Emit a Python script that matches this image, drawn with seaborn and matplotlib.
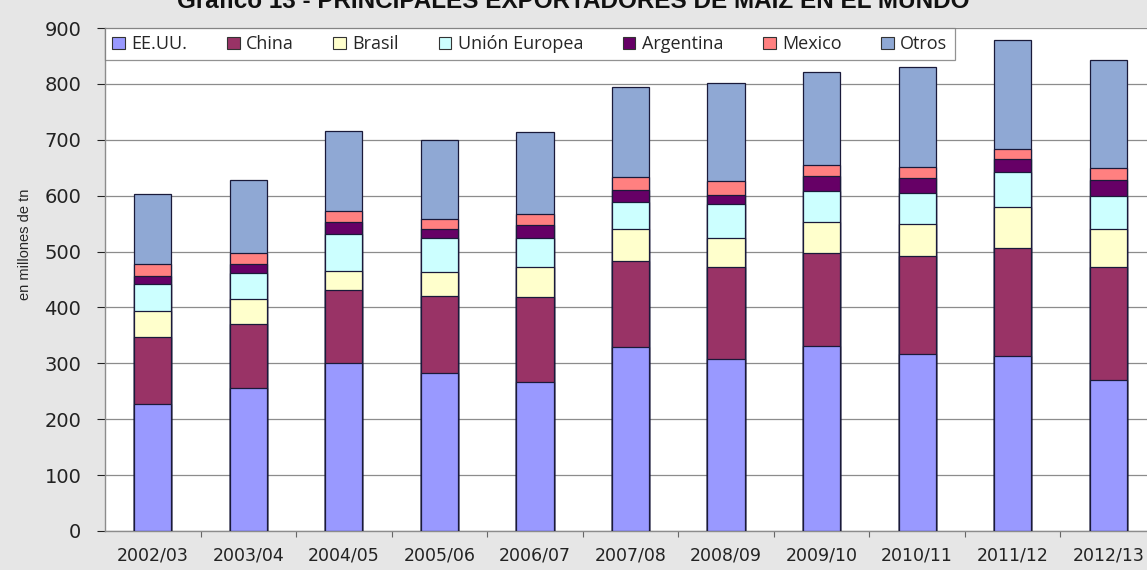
import numpy as np
import pandas as pd
import matplotlib
matplotlib.use("Agg")
import matplotlib.pyplot as plt
from matplotlib.patches import Patch
import seaborn as sns

campaigns = ["2002/03", "2003/04", "2004/05", "2005/06", "2006/07", "2007/08",
             "2008/09", "2009/10", "2010/11", "2011/12", "2012/13"]
eeuu = [228, 256, 301, 282, 267, 330, 308, 331, 316, 314, 271]
china = [119, 115, 130, 138, 152, 153, 165, 166, 176, 192, 202]
brasil = [47, 44, 35, 43, 53, 58, 52, 55, 58, 74, 67]
union_europea = [48, 47, 65, 61, 52, 47, 60, 56, 55, 63, 60]
argentina = [14, 16, 21, 16, 23, 23, 17, 27, 27, 22, 28]
mexico = [22, 20, 21, 19, 21, 23, 25, 20, 20, 18, 21]
otros = [125, 130, 143, 140, 146, 161, 175, 166, 178, 195, 193]

series_names = ["EE.UU.", "China", "Brasil", "Unión Europea", "Argentina", "Mexico", "Otros"]
series_values = [eeuu, china, brasil, union_europea, argentina, mexico, otros]
colors = ["#9999FF", "#993366", "#FFFFCC", "#CCFFFF", "#660066", "#FF8080", "#8FA8D4"]

sns.set_theme(style="white")
plt.rcParams["font.family"] = ["DejaVu Sans"]

fig = plt.figure(figsize=(11.47, 5.70), dpi=100, facecolor="#E6E6E6")
ax = fig.add_axes([105 / 1147, 1 - 531 / 570, (1156 - 105) / 1147, (531 - 28) / 570])
ax.set_facecolor("white")

# cumulative stacking, drawn from top layer downward
cum = np.cumsum(np.array(series_values), axis=0)
for i in range(len(series_names) - 1, -1, -1):
    df = pd.DataFrame({"Campaña": campaigns, "valor": cum[i]})
    sns.barplot(data=df, x="Campaña", y="valor", color=colors[i], width=0.39,
                edgecolor="#1a1a3a", linewidth=0.9, saturation=1, ax=ax, zorder=3)

ax.set_ylim(0, 900)
ax.set_xlim(-0.5, 10.5)
ax.set_yticks(np.arange(0, 901, 100))
ax.yaxis.grid(True, color="#8c8c8c", linewidth=0.9, zorder=0)
ax.set_axisbelow(True)
ax.set_xlabel("")
ax.set_ylabel("en millones de tn", fontsize=10.5,
              family=["Liberation Sans Narrow", "Liberation Sans"])
ax.yaxis.set_label_coords(-0.0695, 0.57)
ax.tick_params(axis="y", labelsize=14, colors="#222222", length=6, width=0.8,
               direction="out", left=True, pad=11)
ax.tick_params(axis="x", which="major", labelsize=12.5, colors="#222222", length=0, pad=11)
ax.set_xticks(np.arange(0.5, 10.5, 1), minor=True)
ax.tick_params(axis="x", which="minor", length=4, width=0.8, color="#666666", direction="out", bottom=True)
for lbl in ax.get_xticklabels():
    lbl.set_color("#222222")

for side in ["top", "right"]:
    ax.spines[side].set_visible(False)
for side in ["left", "bottom"]:
    ax.spines[side].set_visible(True)
    ax.spines[side].set_color("#8c8c8c")
    ax.spines[side].set_linewidth(1.0)

handles = [Patch(facecolor=c, edgecolor="#333333", linewidth=0.8) for c in colors]
leg = ax.legend(handles, series_names, loc="upper left", ncol=7, frameon=True,
                fancybox=False, edgecolor="#777777", borderaxespad=0.0,
                handlelength=0.7, handleheight=0.7, handletextpad=0.35,
                columnspacing=2.2, borderpad=0.4,
                prop={"family": "Open Sans", "size": 13})
leg.get_frame().set_linewidth(0.9)
leg.set_zorder(5)

fig.text(0.5, 1 - 8.5 / 570, "Gráfico 13 - PRINCIPALES EXPORTADORES DE MAIZ EN EL MUNDO",
         ha="center", va="baseline", fontsize=17.5, fontweight="bold",
         family="Liberation Sans", color="#111111")

fig.savefig("out.png", dpi=100, facecolor=fig.get_facecolor())
